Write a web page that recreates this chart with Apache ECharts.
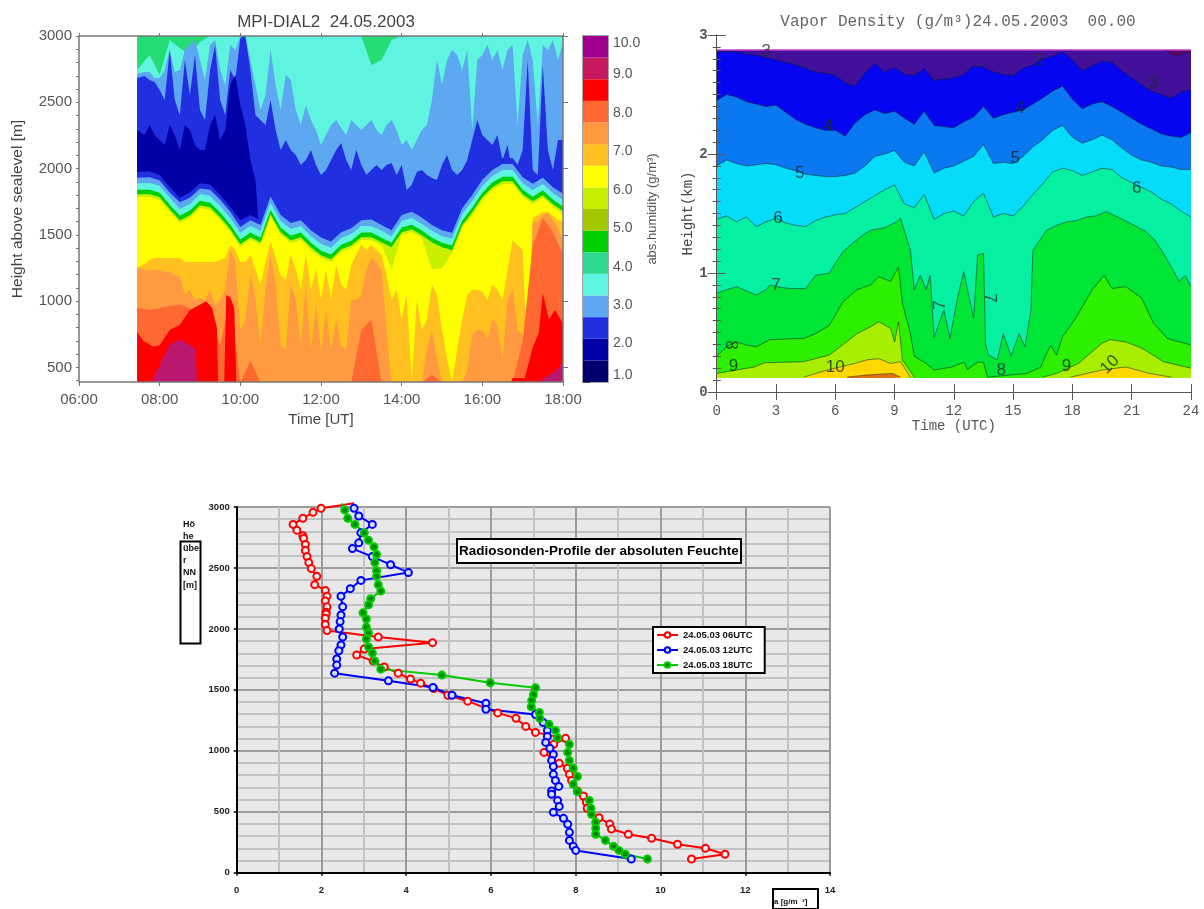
<!DOCTYPE html>
<html><head><meta charset="utf-8">
<style>html,body{margin:0;padding:0;background:#fff}#c{width:1204px;height:909px;filter:blur(0.6px)}</style>
<script src="https://cdn.jsdelivr.net/npm/echarts@6/dist/echarts.min.js"></script>
</head><body><div id="c"></div>
<script>
// ---------- Panel A: MPI-DIAL2 (layer tops in metres, per time column) ----------
const dialTimes=[7.44,7.75,8,8.25,8.5,8.75,9,9.25,9.5,9.75,10,10.25,10.5,10.75,11,11.25,11.5,11.75,12,12.25,12.5,12.75,13,13.25,13.5,13.75,14,14.25,14.5,14.75,15,15.25,15.5,15.75,16,16.25,16.5,16.75,17,17.25,17.5,17.75,18];
const dialFineTimes=[7.44,7.625,7.75,7.875,8,8.125,8.25,8.375,8.5,8.625,8.75,8.875,9,9.125,9.25,9.375,9.5,9.625,9.75,9.875,10,10.125,10.25,10.375,10.5,10.625,10.75,10.875,11,11.125,11.25,11.375,11.5,11.625,11.75,11.875,12,12.125,12.25,12.375,12.5,12.625,12.75,12.875,13,13.125,13.25,13.375,13.5,13.625,13.75,13.875,14,14.125,14.25,14.375,14.5,14.625,14.75,14.875,15,15.125,15.25,15.375,15.5,15.625,15.75,15.875,16,16.125,16.25,16.375,16.5,16.625,16.75,16.875,17,17.125,17.25,17.375,17.5,17.625,17.75,17.875,18];
const dialBaseTop=[3000,3000,3000,3000,3000,3000,3000,3000,3000,3000,3000,3000,3000,3000,3000,3000,3000,3000,3000,3000,3000,3000,3000,3000,3000,3000,3000,3000,3000,3000,3000,3000,3000,3000,3000,3000,3000,3000,3000,3000,3000,3000,3000];
const dialTurqHigh=[2744,2857,2706,2970,2910,2857,2955,3000,3000,3000,3000,3000,3000,3000,3000,3000,3000,3000,3000,3000,3000,3000,3000,2781,2819,2970,3000,3000,3000,3000,3000,3000,3000,3000,3000,3000,3000,3000,3000,3000,3000,3000,3000];
const dialLightHigh=[2713,2729,2729,2683,2683,2744,2894,2729,2744,2894,
2932,2970,2819,2668,2932,2970,2744,2631,2932,2894,
3000,3000,2819,2631,2442,2555,2894,2631,2442,2706,
2668,2442,2329,2480,2367,2291,2178,2254,2329,2367,
2306,2254,2367,2329,2291,2329,2367,2291,2254,2329,
2367,2291,2178,2216,2140,2216,2291,2329,2517,2819,
2631,2819,2894,2857,2744,2894,2291,2819,2857,2932,
2819,2894,2744,2894,2932,2329,2857,2970,2819,2329,
2932,2894,2970,2819,2955];
const dialBlueHigh=[2683,2698,2668,2653,2593,2517,2894,2517,2404,2819,
2555,2857,2442,2367,2744,2932,2517,2404,2744,2668,
2985,3000,2744,2404,2367,2329,2517,2291,2140,2216,
2140,2103,2027,2065,2140,2027,1952,1990,2065,2140,
2193,2065,1990,2140,2027,1952,1990,2027,1990,2027,
2042,1952,2027,1839,1877,1975,1990,1952,1929,1914,
2027,2103,1990,1952,1990,2065,2216,2367,2254,2216,
2178,2254,2065,2178,1952,2027,2140,2819,1990,1952,
2781,2140,1990,2216,2216];
const dialDark=[2291,2254,2329,2254,2216,2178,2329,2254,2140,2329,2291,2178,2140,2140,2329,2404,2216,2291,2631,2706,2480,2329,2065,1914,
1400,1400,1400,1400,1400,1400,1400,1400,1400,1400,1400,1400,1400,1400,1400,1400,1400,1400,1400,1400,1400,1400,1400,1400,1400,1400,1400,1400,1400,1400,1400,1400,1400,1400,1400,1400,1400,1400,1400,1400,1400,1400,1400,1400,1400,1400,1400,1400,1400,1400,1400,1400,1400,1400,1400,1400,1400,1400,1400,1400,1400];
const dialBlueLow=[1976,1980,1950,1860,1780,1820,1890,1880,1800,1710,1610,1650,1610,1830,1700,1640,1660,1590,1520,1490,1570,1600,1660,1660,1620,1580,1700,1720,1680,1620,1590,1560,1750,1850,1960,2030,2080,2080,1980,1930,1970,1900,1850];
const dialLightLow=[1930,1935,1910,1820,1745,1780,1850,1840,1765,1675,1560,1610,1575,1790,1650,1590,1610,1535,1480,1450,1520,1550,1610,1615,1575,1535,1650,1675,1630,1575,1535,1515,1700,1800,1915,1990,2035,2035,1935,1885,1930,1860,1810];
const dialTurqLow=[1890,1892,1868,1780,1695,1733,1808,1793,1718,1628,1515,1567,1530,1740,1605,1545,1567,1490,1432,1402,1477,1506,1567,1567,1530,1490,1605,1628,1582,1530,1490,1470,1657,1755,1868,1944,1990,1990,1890,1838,1884,1816,1763];
const dialGreen=[1841,1841,1818,1728,1645,1683,1758,1743,1668,1577,1464,1517,1479,1690,1555,1494,1517,1441,1381,1351,1426,1456,1517,1517,1479,1441,1555,1577,1532,1479,1441,1419,1607,1705,1818,1894,1939,1939,1841,1788,1834,1766,1713];
const dialLime=[1806,1806,1783,1693,1610,1648,1723,1708,1633,1542,1429,1482,1444,1655,1520,1459,1482,1406,1346,1316,1391,1421,1482,1482,1444,1406,1520,1542,1497,1444,1406,1384,1572,1670,1783,1859,1904,1904,1806,1753,1799,1731,1678];
const dialYellow=[1786,1786,1763,1673,1590,1628,1703,1688,1613,1522,1409,1462,1424,1635,1500,1439,1462,1386,1326,1296,1371,1401,1462,1462,1424,1240,1500,1522,1477,1240,1250,1364,1552,1650,1763,1839,1884,1884,1786,1733,1779,1711,1658];
const dialAmber=[1251,1281,1311,1326,1326,1326,1326,1326,1326,1296,
1296,1296,1296,1296,1296,1296,1311,1326,1424,1386,
1296,1296,1349,1236,1123,1296,1447,1326,1198,1160,
1349,1236,1085,1349,1085,1236,1010,1236,1010,1273,
1123,1085,1273,1349,1424,1386,1424,1386,1349,1198,
1010,1085,859,1047,391,1010,783,859,1123,1047,
783,557,391,632,859,1047,1085,1085,1070,1010,
1123,1085,1010,1236,1462,1424,1386,406,1628,1650,
1673,1673,1643,1613,1598];
const dialOrange=[1251,1236,1236,1236,1236,1221,1221,1198,1190,1047,
1085,1010,1024,1010,1085,972,1010,1085,1386,1296,
783,859,1198,1010,670,1085,1349,1123,670,632,
1123,1010,670,1123,632,972,617,934,632,859,
670,632,1010,1010,1047,1236,1326,1296,1236,783,
385,385,385,385,385,385,385,632,783,557,
385,385,385,385,385,482,746,783,783,708,
859,821,557,1010,1085,783,746,385,1598,1598,
1650,1665,1613,1552,1462];
const dialOrangeRed=[949,934,949,964,972,949,859,859,670,1010,385,550,385,385,385,385,385,385,385,385,385,385,783,859,385,385,385,385,385,444,385,385,385,385,385,385,385,385,700,1424,1628,1522,1349];
const dialRedTimes=[7.44,7.6,7.85,8,8.25,8.5,8.75,9,9.15,9.3,9.42,9.45,9.6,9.65,9.75,9.85,9.9,16.7,16.75,17.05,17.25,17.4,17.5,17.65,17.8,17.9,18];
const dialRed=[768,700,655,670,783,821,934,972,1000,950,800,385,385,1047,1030,950,385,385,421,421,650,760,1062,859,934,880,836];
const dialCrimsonTimes=[7.8,8,8.25,8.5,8.75,8.88,8.93,17.4,17.6,17.8,18];
const dialCrimson=[385,520,670,710,670,640,385,385,436,467,542];
const dialHeightTicks=[400,500,600,700,800,900,1000,1100,1200,1300,1400,1500,1600,1700,1800,1900,2000,2100,2200,2300,2400,2500,2600,2700,2800,2900,3000];
const dialHeightLabels=[500,1000,1500,2000,2500,3000];

// colour bar
const barEdges=[1,1.5625,2.125,2.6875,3.25,3.8125,4.375,4.9375,5.5,6.0625,6.625,7.1875,7.75,8.3125,8.875,9.4375,10];
const barColors=['#00006e','#0000a6','#2030e0','#5ea8f2','#5ef6e2','#30d890','#00d000','#a4c800','#c8ee00','#ffff00','#ffc020','#ff9a40','#ff6830','#ff0000','#c81860','#a00090'];

// ---------- Panel B: Vapor Density (contour heights in km) ----------
const vapHours=[0,.5,1,1.5,2,2.5,3,3.5,4,4.5,5,5.5,6,6.5,7,7.5,8,8.5,9,9.5,10,10.5,11,11.5,12,12.5,13,13.5,14,14.5,15,15.5,16,16.5,17,17.5,18,18.5,19,19.5,20,20.5,21,21.5,22,22.5,23,23.5,24];
const vapTop=[2.874,2.874,2.874,2.874,2.874,2.874,2.874,2.874,2.874,2.874,2.874,2.874,2.874,2.874,2.874,2.874,2.874,2.874,2.874,2.874,2.874,2.874,2.874,2.874,2.874,2.874,2.874,2.874,2.874,2.874,2.874,2.874,2.874,2.874,2.874,2.874,2.874,2.874,2.874,2.874,2.874,2.874,2.874,2.874,2.874,2.874,2.874,2.874,2.874];
const vapLevel4=[2.86,2.86,2.86,2.84,2.83,2.81,2.79,2.77,2.75,2.72,2.69,2.68,2.66,2.60,2.57,2.68,2.76,2.69,2.73,2.67,2.66,2.72,2.62,2.63,2.64,2.67,2.74,2.73,2.69,2.67,2.66,2.72,2.75,2.80,2.82,2.86,2.79,2.70,2.74,2.78,2.77,2.70,2.64,2.58,2.53,2.50,2.47,2.52,2.54];
const vapLevel5=[2.45,2.50,2.48,2.44,2.42,2.40,2.41,2.35,2.29,2.25,2.22,2.20,2.20,2.15,2.26,2.33,2.37,2.34,2.36,2.30,2.25,2.36,2.24,2.23,2.22,2.27,2.31,2.40,2.30,2.33,2.35,2.37,2.42,2.47,2.53,2.57,2.46,2.38,2.42,2.44,2.40,2.35,2.30,2.25,2.21,2.17,2.15,2.14,2.18];
const vapLevel55=[1.90,1.95,1.92,1.90,1.91,1.92,1.91,1.88,1.86,1.83,1.82,1.81,1.81,1.82,1.84,1.90,1.98,2.00,2.03,1.93,1.90,2.02,1.84,1.88,1.90,1.94,1.98,2.08,1.92,1.93,1.92,1.98,2.06,2.12,2.20,2.24,2.14,2.09,2.12,2.16,2.12,2.05,1.99,1.95,1.93,1.90,1.89,1.87,1.87];
const vapLevel6=[1.45,1.48,1.43,1.47,1.39,1.43,1.46,1.42,1.40,1.39,1.44,1.47,1.49,1.50,1.55,1.60,1.65,1.70,1.74,1.58,1.55,1.66,1.45,1.50,1.52,1.48,1.60,1.67,1.47,1.50,1.48,1.56,1.66,1.75,1.85,1.88,1.86,1.82,1.85,1.88,1.87,1.80,1.76,1.72,1.68,1.62,1.58,1.52,1.47];
const vap7Hours=[0,.5,1,1.5,2,2.5,2.7,3.2,3.7,4.5,5,5.7,6,6.4,6.8,7.1,7.5,7.8,8.5,9.1,9.3,9.8,10,10.3,10.6,10.8,11,11.3,11.5,11.8,12.2,12.5,13,13.2,13.5,13.6,13.75,14.2,14.5,14.9,15.3,15.6,15.9,16,16.7,17.2,17.7,18.2,18.7,19.2,19.7,20.3,20.9,21.7,22.2,22.6,23,23.4,23.7,24];
const vapLevel7=[.83,.86,.885,.85,.815,.86,.90,.88,.87,.87,.98,1.0,1.08,1.18,1.24,1.28,1.33,1.36,1.38,1.43,1.46,1.19,.86,.98,.86,.98,.46,.60,.69,.45,.80,1.01,.62,1.15,1.165,.41,.31,.27,.49,.30,.49,.38,.69,1.19,1.36,1.40,1.43,1.44,1.47,1.48,1.515,1.47,1.42,1.35,1.27,1.165,1.05,.93,.98,.885];
const vap8Hours=[0,.5,1,1.5,2,2.7,4.4,5,5.7,6.4,7.1,7.8,8.2,8.8,9.2,9.4,9.8,10,10.6,11,11.9,12.5,12.7,13.2,13.5,13.7,15.7,16.4,16.7,16.9,17.2,17.5,18.2,19,19.6,20,20.7,21.5,22.1,22.8,24];
const vapLevel8=[.30,.38,.42,.395,.38,.44,.45,.49,.56,.76,.86,.90,.97,.93,1.05,.745,.49,.30,.24,.185,.21,.25,.19,.25,.25,.125,.156,.21,.325,.39,.31,.465,.63,.86,.98,.87,.885,.79,.58,.45,.395];
const vap9Hours=[0,1.9,2.4,4.4,5.7,7.1,7.8,8.2,8.8,9,9.2,9.4,10,13,16.5,17.2,18.3,19.5,19.9,20.7,21.5,22.6,24];
const vapLevel9=[.156,.21,.245,.255,.31,.49,.55,.59,.535,.42,.59,.27,.125,null,.125,.156,.24,.41,.44,.42,.37,.255,.20];
const vap10Hours=[4.4,5.6,7,7.6,8.2,8.8,9.3,9.8,13,17.9,19.5,20.7,21.9,23];
const vapLevel10=[.125,.185,.24,.27,.28,.24,.255,.125,null,.125,.185,.21,.156,.125];
const vap11Hours=[6.6,7.6,8.9,9.3];
const vapLevel11=[.125,.143,.156,.125];
const vap3Hours=[22.7,23,23.3,23.7,24];
const vapLevel3=[2.874,2.84,2.82,2.85,2.85];
const vapLabelText=['3','4','5','6','7','8','9','10','3','3','4','5','6','7','7','8','9','10'];
const vapLabelHour=[2.5,5.65,4.2,3.1,3,.7,.85,6,16.3,22.1,15.35,15.1,21.25,11.3,13.8,14.4,17.7,19.9];
const vapLabelKm=[2.86,2.23,1.84,1.46,.90,.395,.22,.21,2.78,2.59,2.38,1.96,1.71,.73,.79,.185,.22,.23];
const vapLabelRotate=[0,0,0,0,0,-90,0,0,0,0,0,0,0,90,-90,0,0,45];

// ---------- Panel C: Radiosonde profiles (absolute humidity g/m3, height m) ----------
const sondeNames=['24.05.03 06UTC','24.05.03 12UTC','24.05.03 18UTC'];
const redHum=[2.77,1.99,1.80,1.56,1.33,1.42,1.56,1.58,1.62,1.62,1.66,1.70,1.76,1.89,1.84,2.09,2.13,2.09,2.13,2.11,2.11,2.09,2.09,2.13,3.34,4.62,3.01,2.83,3.22,3.48,3.81,4.10,4.34,4.65,4.98,5.45,6.16,6.59,6.82,7.05,7.76,7.48,7.25,7.61,7.80,7.85,7.90,8.04,8.18,8.25,8.27,8.55,8.80,8.84,9.24,9.79,10.40,11.06,11.52,10.73];
const redAlt=[3030,2989,2956,2907,2857,2810,2764,2742,2692,2643,2593,2544,2495,2431,2363,2316,2267,2228,2181,2137,2123,2088,2036,1986,1934,1887,1835,1786,1736,1687,1637,1588,1555,1511,1456,1407,1311,1266,1200,1151,1102,1053,987,897,856,807,757,670,629,577,528,451,399,358,315,282,233,200,151,112];
const blueHum=[2.77,2.88,3.20,2.93,2.88,2.73,3.20,3.63,4.05,2.93,2.68,2.46,2.50,2.46,2.44,2.42,2.50,2.46,2.41,2.36,2.36,2.31,3.58,4.63,5.08,5.88,5.88,7.05,7.23,7.33,7.33,7.29,7.39,7.47,7.43,7.47,7.47,7.52,7.60,7.43,7.43,7.57,7.61,7.47,7.71,7.81,7.85,7.85,7.94,8.00,9.31];
const blueAlt=[2989,2926,2857,2788,2706,2659,2593,2527,2462,2398,2330,2267,2181,2115,2060,2000,1934,1868,1821,1753,1703,1637,1574,1519,1456,1390,1341,1298,1233,1167,1118,1069,1020,970,921,872,807,757,708,670,643,593,544,495,446,397,331,265,216,183,112];
const greenHum=[2.48,2.55,2.62,2.79,3.01,3.11,3.24,3.30,3.26,3.30,3.30,3.34,3.40,3.16,3.11,2.98,3.06,3.06,3.11,3.06,3.11,3.20,3.26,3.40,4.84,5.98,7.05,7.00,6.96,6.95,7.14,7.15,7.37,7.52,7.57,7.85,7.81,7.85,7.94,8.04,7.94,8.04,8.32,8.36,8.37,8.47,8.47,8.47,8.70,8.89,9.02,9.17,9.69];
const greenAlt=[3030,2975,2907,2857,2788,2728,2673,2610,2544,2478,2431,2363,2310,2247,2198,2132,2082,2014,1967,1918,1852,1802,1736,1670,1621,1558,1517,1460,1412,1361,1315,1266,1217,1167,1107,1053,987,921,856,790,725,664,593,528,479,413,364,315,265,216,183,151,112];

const zip=(a,b)=>a.map((v,i)=>[v,b[i]===null?'-':b[i]]);
const SANS="'Liberation Sans',Arial,sans-serif", MONO="'Liberation Mono',monospace";

function dialLayer(t,arr,color){return {type:'line',xAxisIndex:0,yAxisIndex:0,data:zip(t,arr),showSymbol:false,silent:true,animation:false,lineStyle:{width:0},areaStyle:{color:color,opacity:1,origin:'start'}};}
function vapLayer(h,arr,color,line,w){return {type:'line',xAxisIndex:2,yAxisIndex:2,data:zip(h,arr),showSymbol:false,silent:true,animation:false,lineStyle:{width:w||0.8,color:line||'rgba(10,30,40,.65)'},areaStyle:{color:color,opacity:1,origin:0.118}};}
function sonde(i,h,a,color,fill){return {type:'line',name:sondeNames[i],xAxisIndex:4,yAxisIndex:4,data:zip(h,a),clip:false,animation:false,symbol:v=>v[1]>3000?'none':'circle',symbolSize:7,showAllSymbol:true,lineStyle:{color:color,width:2},itemStyle:{color:fill,borderColor:color,borderWidth:2}};}

const axisGrey={lineStyle:{color:'#777',width:1.5}};
const option={
 backgroundColor:'#fff',animation:false,
 title:[
  {text:'MPI-DIAL2  24.05.2003',left:321,top:9,textAlign:'center',textStyle:{fontFamily:SANS,fontSize:17,fontWeight:'normal',color:'#444'}},
  {text:'Vapor Density (g/m³)24.05.2003  00.00',left:953,top:9,textAlign:'center',textStyle:{fontFamily:MONO,fontSize:16,fontWeight:'normal',color:'#666'}},
  {text:'Radiosonden-Profile der absoluten Feuchte',left:457,top:539,backgroundColor:'#fff',borderColor:'#000',borderWidth:2,padding:[5,2,5,2],textStyle:{fontFamily:SANS,fontSize:13.5,fontWeight:'bold',color:'#000'}}
 ],
 legend:{data:sondeNames,orient:'vertical',left:653,top:627,backgroundColor:'#fff',borderColor:'#000',borderWidth:2,padding:[3,12,3,3],itemGap:5,itemWidth:21,itemHeight:7,textStyle:{fontFamily:SANS,fontSize:9.5,fontWeight:'bold',color:'#111'}},
 grid:[
  {left:79,top:36,width:484,height:346},
  {left:716.7,top:35,width:474.3,height:357},
  {left:236.7,top:507,width:593.4,height:365.7,show:true,backgroundColor:'#e8e8e8',borderWidth:0},
  {left:583,top:36,width:25,height:346,show:true,borderColor:'#888',borderWidth:1.5}
 ],
 xAxis:[
  {gridIndex:0,type:'value',min:6,max:18,interval:2,z:5,axisLine:axisGrey,axisTick:{length:4,lineStyle:{color:'#777'}},splitLine:{show:false},
   axisLabel:{formatter:v=>(v<10?'0':'')+v+':00',fontFamily:SANS,fontSize:15,color:'#555',margin:10},name:'Time [UT]',nameLocation:'middle',nameGap:30,nameTextStyle:{fontFamily:SANS,fontSize:15,color:'#444'}},
  {gridIndex:0,type:'value',position:'top',min:6,max:18,interval:2,z:5,axisLine:axisGrey,axisTick:{length:3,lineStyle:{color:'#777'}},axisLabel:{show:false},splitLine:{show:false}},
  {gridIndex:1,type:'value',min:0,max:24,interval:3,z:5,axisLine:{lineStyle:{color:'#555',width:1}},axisTick:{inside:true,length:8,lineStyle:{color:'#555'}},splitLine:{show:false},
   axisLabel:{fontFamily:MONO,fontSize:14,color:'#555',margin:12},name:'Time (UTC)',nameLocation:'middle',nameGap:27,nameTextStyle:{fontFamily:MONO,fontSize:14,color:'#555'}},
  {gridIndex:1,type:'value',position:'top',min:0,max:24,interval:3,z:5,axisLine:{lineStyle:{color:'#555',width:1}},axisTick:{inside:true,length:8,lineStyle:{color:'#555'}},axisLabel:{show:false},splitLine:{show:false}},
  {gridIndex:2,type:'value',min:0,max:14,interval:2,axisLine:{lineStyle:{color:'#000',width:2}},axisTick:{length:3,lineStyle:{color:'#000',width:1.5}},
   axisLabel:{fontFamily:SANS,fontSize:9.5,fontWeight:'bold',color:'#222',margin:13},splitLine:{lineStyle:{color:'#9c9c9c',width:2}},
   minorTick:{show:false,splitNumber:2},minorSplitLine:{show:true,lineStyle:{color:'#c2c2c2',width:2}}},
  {gridIndex:3,type:'value',min:0,max:1,show:false}
 ],
 yAxis:[
  {gridIndex:0,type:'value',min:390,max:3000,z:5,axisLine:{show:true,...axisGrey},axisTick:{show:true,customValues:dialHeightTicks,length:3,lineStyle:{color:'#777'}},splitLine:{show:false},
   axisLabel:{customValues:dialHeightLabels,formatter:v=>String(v),fontFamily:SANS,fontSize:15,color:'#555',margin:7,padding:[6,0,0,0]},name:'Height above sealevel [m]',nameLocation:'middle',nameGap:53,nameTextStyle:{fontFamily:SANS,fontSize:15.5,color:'#444'}},
  {gridIndex:0,type:'value',position:'right',min:390,max:3000,z:5,axisLine:{show:true,...axisGrey},axisTick:{show:true,customValues:dialHeightLabels,length:5,lineStyle:{color:'#777'}},axisLabel:{show:false},splitLine:{show:false}},
  {gridIndex:1,type:'value',min:0,max:3,interval:1,z:5,axisLine:{show:true,lineStyle:{color:'#555',width:1}},axisTick:{show:true,inside:true,length:9,lineStyle:{color:'#555'}},minorTick:{show:true,splitNumber:10,length:4,lineStyle:{color:'#555'}},splitLine:{show:false},
   axisLabel:{fontFamily:MONO,fontSize:14,fontWeight:'bold',color:'#555',margin:9},name:'Height(km)',nameLocation:'middle',nameGap:21,nameTextStyle:{fontFamily:MONO,fontSize:14,color:'#444'}},
  {gridIndex:1,type:'value',position:'right',min:0,max:3,interval:1,z:5,axisLine:{show:true,lineStyle:{color:'#555',width:1}},axisTick:{show:true,inside:true,length:9,lineStyle:{color:'#555'}},minorTick:{show:true,splitNumber:10,length:4,lineStyle:{color:'#555'}},axisLabel:{show:false},splitLine:{show:false}},
  {gridIndex:2,type:'value',min:0,max:3000,interval:500,axisLine:{show:true,lineStyle:{color:'#000',width:2}},axisTick:{show:true,length:3,lineStyle:{color:'#000',width:1.5}},
   axisLabel:{formatter:v=>String(v),fontFamily:SANS,fontSize:9.5,fontWeight:'bold',color:'#222',margin:7},splitLine:{lineStyle:{color:'#9c9c9c',width:2}},
   minorTick:{show:false,splitNumber:5},minorSplitLine:{show:true,lineStyle:{color:'#c2c2c2',width:2}}},
  {gridIndex:3,type:'value',position:'right',min:1,max:10,interval:1,axisLine:{show:false},axisTick:{show:true,length:7,lineStyle:{color:'#444'}},splitLine:{show:false},
   axisLabel:{formatter:v=>v.toFixed(1),fontFamily:SANS,fontSize:14,color:'#555',margin:5,verticalAlignMinLabel:'bottom',verticalAlignMaxLabel:'top'},
   name:'abs.humidity (g/m³)',nameLocation:'middle',nameGap:38,nameRotate:90,nameTextStyle:{fontFamily:SANS,fontSize:13,color:'#555'}}
 ],
 series:[
  // Panel A, painted back to front
  dialLayer(dialTimes,dialBaseTop,'#24dc74'),
  dialLayer(dialTimes,dialTurqHigh,'#5ef4e0'),
  dialLayer(dialFineTimes,dialLightHigh,'#5ea8f2'),
  dialLayer(dialFineTimes,dialBlueHigh,'#2030e0'),
  dialLayer(dialFineTimes,dialDark,'#0000a6'),
  dialLayer(dialTimes,dialBlueLow,'#2030e0'),
  dialLayer(dialTimes,dialLightLow,'#5ea8f2'),
  dialLayer(dialTimes,dialTurqLow,'#5ef4e0'),
  dialLayer(dialTimes,dialGreen,'#00d000'),
  dialLayer(dialTimes,dialLime,'#c8ee00'),
  dialLayer(dialTimes,dialYellow,'#ffff00'),
  dialLayer(dialFineTimes,dialAmber,'#ffc020'),
  dialLayer(dialFineTimes,dialOrange,'#ff9a40'),
  dialLayer(dialTimes,dialOrangeRed,'#ff6830'),
  dialLayer(dialRedTimes,dialRed,'#ff0000'),
  dialLayer(dialCrimsonTimes,dialCrimson,'#bc1870'),
  // Panel B
  vapLayer(vapHours,vapTop,'#43109c','#c23cd0',1.5),
  {type:'line',xAxisIndex:2,yAxisIndex:2,data:zip(vap3Hours,vapLevel3),showSymbol:false,silent:true,lineStyle:{width:0.8,color:'rgba(10,30,40,.6)'},areaStyle:{color:'#5a0066',opacity:1,origin:2.874}},
  vapLayer(vapHours,vapLevel4,'#0505f0'),
  vapLayer(vapHours,vapLevel5,'#0a78f0'),
  vapLayer(vapHours,vapLevel55,'#05dcfa'),
  vapLayer(vapHours,vapLevel6,'#05f0a0'),
  vapLayer(vap7Hours,vapLevel7,'#00e636'),
  vapLayer(vap8Hours,vapLevel8,'#2cf000'),
  vapLayer(vap9Hours,vapLevel9,'#a8ee00'),
  vapLayer(vap10Hours,vapLevel10,'#ffd800'),
  vapLayer(vap11Hours,vapLevel11,'#e07010'),
  {type:'scatter',xAxisIndex:2,yAxisIndex:2,symbolSize:1,silent:true,itemStyle:{color:'transparent'},z:4,
   data:vapLabelText.map((t,i)=>({value:[vapLabelHour[i],vapLabelKm[i]],label:{show:true,position:'inside',formatter:t,rotate:vapLabelRotate[i],fontFamily:SANS,fontSize:17,color:'#1c2c2c'}}))},
  // Colour bar
  {type:'custom',xAxisIndex:5,yAxisIndex:5,silent:true,data:barColors.map((c,i)=>[barEdges[i],barEdges[i+1]]),encode:{y:[0,1]},
   renderItem:(p,api)=>{const a=api.coord([0,api.value(0)]),b=api.coord([1,api.value(1)]);return {type:'rect',shape:{x:a[0],y:b[1],width:b[0]-a[0],height:a[1]-b[1]},style:{fill:barColors[p.dataIndex]}};}},
  // Panel C
  sonde(0,redHum,redAlt,'#ff0000','#ececec'),
  sonde(1,blueHum,blueAlt,'#0000ff','#cfe0ff'),
  sonde(2,greenHum,greenAlt,'#00cc00','#008c00')
 ],
 graphic:[
  {type:'rect',left:178,top:539,shape:{width:20,height:102},style:{fill:'none',stroke:'#000',lineWidth:2},z:1},
  {type:'text',left:183,top:518,z:10,style:{text:'Hö\nhe\nübe\nr\nNN\n[m]',font:"bold 9px 'Liberation Sans'",lineHeight:12.2,fill:'#111'}},
  {type:'rect',left:772,top:888,shape:{width:45,height:20},style:{fill:'#fff',stroke:'#000',lineWidth:2},z:1},
  {type:'text',left:774,top:898,z:10,style:{text:'a [g/m  ³]',font:"bold 8px 'Liberation Sans'",fill:'#111'}}
 ]
};
const chart=echarts.init(document.getElementById('c'),null,{renderer:'canvas'});
chart.setOption(option);
</script></body></html>
